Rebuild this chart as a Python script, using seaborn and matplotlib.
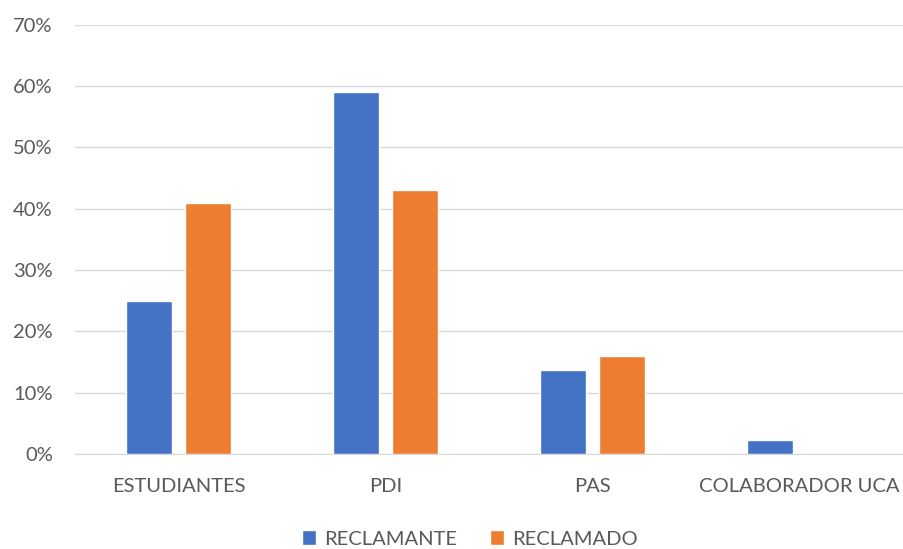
import seaborn as sns
import matplotlib.pyplot as plt
import pandas as pd
from matplotlib.ticker import PercentFormatter

categorias = ["ESTUDIANTES", "PDI", "PAS", "COLABORADOR UCA"]
reclamante = [25.0, 59.0, 13.7, 2.3]
reclamado = [41.0, 43.0, 16.0, 0.0]

df = pd.DataFrame({
    "categoria": categorias * 2,
    "valor": reclamante + reclamado,
    "tipo": ["RECLAMANTE"] * 4 + ["RECLAMADO"] * 4,
})

sns.set_style("white")
plt.rcParams["font.family"] = ["Lato", "DejaVu Sans"]

fig = plt.figure(figsize=(9.04, 5.49), dpi=100)
ax = fig.add_axes([0.083, 0.173, 0.916, 0.782])

sns.barplot(data=df, x="categoria", y="valor", hue="tipo",
            palette=["#4472C4", "#ED7D31"], width=0.57, gap=0.22,
            saturation=1, ax=ax, zorder=3)

ax.set_xlim(-0.5, 3.5)
ax.set_ylim(0, 70)
ax.set_yticks(range(0, 71, 10))
ax.yaxis.set_major_formatter(PercentFormatter(decimals=0))
ax.grid(axis="y", color="#D9D9D9", linewidth=1, zorder=0)
for s in ["top", "right", "left"]:
    ax.spines[s].set_visible(False)
ax.spines["bottom"].set_color("#D9D9D9")
ax.set_xlabel("")
ax.set_ylabel("")
ax.tick_params(axis="both", length=0, labelsize=14.5, colors="#595959")
ax.tick_params(axis="x", pad=17)
ax.tick_params(axis="y", pad=16)

ax.legend(loc="lower center", bbox_to_anchor=(0.477, -0.26), ncol=2,
          frameon=False, fontsize=14.5, labelcolor="#595959",
          handlelength=0.7, handleheight=0.7, columnspacing=1.6,
          handletextpad=0.4)

fig.savefig("out.png", dpi=100)
